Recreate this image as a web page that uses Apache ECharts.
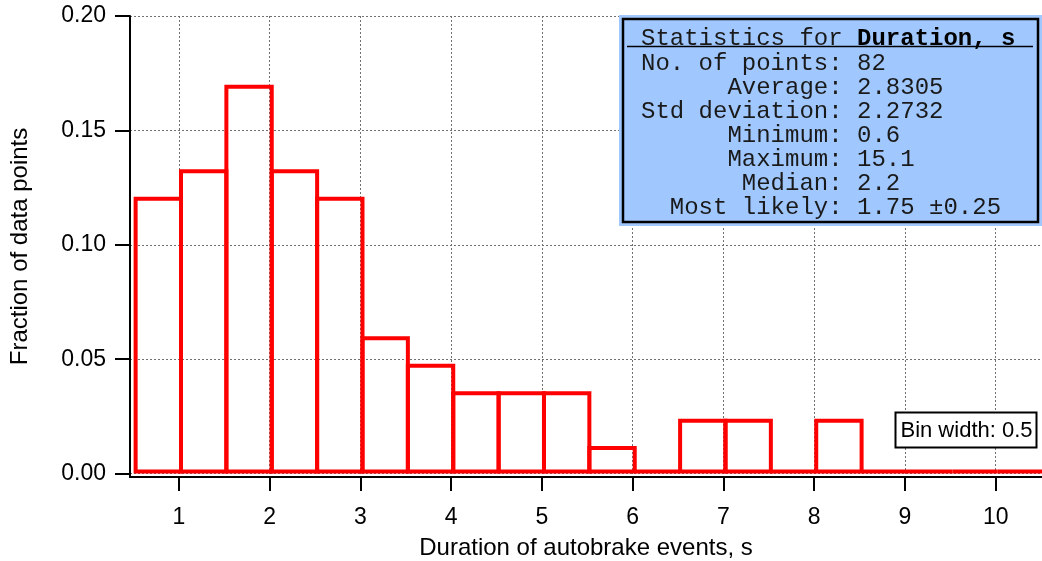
<!DOCTYPE html>
<html><head><meta charset="utf-8">
<script src="https://cdn.jsdelivr.net/npm/echarts@6/dist/echarts.min.js"></script>
<style>html,body{margin:0;padding:0;background:#fff}#c{width:1042px;height:561px}</style>
</head><body><div id="c"></div>
<script>
// ---- data ----
const binWidth = 0.5;
const binStarts = [0.5,1,1.5,2,2.5,3,3.5,4,4.5,5,5.5,6,6.5,7,7.5,8,8.5,9,9.5,10,10.5,11,11.5,12,12.5,13,13.5,14,14.5,15];
const fractions = [0.121,0.133,0.170,0.133,0.121,0.060,0.048,0.036,0.036,0.036,0.012,0,0.024,0.024,0,0.024,0,0,0,0,0,0,0,0,0,0,0,0,0,0.012];
const xTickValues = [1,2,3,4,5,6,7,8,9,10];
const yTickValues = [0,0.05,0.10,0.15,0.20];
const xTitle = 'Duration of autobrake events, s';
const yTitle = 'Fraction of data points';
const statTitle = 'Statistics for ';
const statVariable = 'Duration, s';
const statLabels = ['No. of points','Average','Std deviation','Minimum','Maximum','Median','Most likely'];
const statValues = ['82','2.8305','2.2732','0.6','15.1','2.2','1.75 \u00b10.25'];
const binNote = 'Bin width: 0.5';

// ---- chart ----
const SANS = "'Liberation Sans', Arial, Helvetica, sans-serif";
const MONO = "'Liberation Mono', 'Courier New', monospace";
const chart = echarts.init(document.getElementById('c'), null, {renderer:'canvas'});

const gridStyle = {color:'#707070', width:1, type:[2,2]};

function renderItem(params, api){
  const x0 = api.value(0), v = api.value(1);
  const a = api.coord([x0, 0]);
  const b = api.coord([x0 + binWidth, v]);
  const h = 2;
  const yb = a[1] - h;
  const yt = Math.min(b[1] + h, yb);
  return {
    type:'polygon',
    shape:{points:[[a[0]+h, yb],[a[0]+h, yt],[b[0]+h, yt],[b[0]+h, yb]]},
    style:{fill:'none', stroke:'#ff0000', lineWidth:4, lineJoin:'miter'}
  };
}

const statLines = statLabels.map((l,i)=> l.padStart(13,' ') + ': ' + statValues[i]);
const statGraphics = [
  {type:'rect', shape:{x:619, y:15, width:423, height:211}, style:{fill:'#a0c8ff'}, z:100},
  {type:'rect', shape:{x:623, y:19, width:415, height:203}, style:{fill:'none', stroke:'#000', lineWidth:2.5}, z:101},
  {type:'line', shape:{x1:627, y1:46.5, x2:1033, y2:46.5}, style:{stroke:'#000', lineWidth:1.5}, z:101},
  {type:'text', x:641, y:39, z:102, style:{
    text:'{n|' + statTitle + '}{b|' + statVariable + '}',
    rich:{n:{font:'24px ' + MONO, fill:'#1a1a1a'}, b:{font:'bold 24px ' + MONO, fill:'#000'}},
    font:'24px ' + MONO, fill:'#1a1a1a', align:'left', verticalAlign:'middle'}}
].concat(statLines.map((t,i)=>({
  type:'text', x:641, y:64 + i*23.9, z:102,
  style:{text:t, font:'24px ' + MONO, fill:'#1a1a1a', align:'left', verticalAlign:'middle'}
})));

const noteGraphics = [
  {type:'rect', shape:{x:895.5, y:412.5, width:141, height:35}, style:{fill:'#fff', stroke:'#000', lineWidth:2}, z:100},
  {type:'text', x:966.5, y:431, z:101, style:{text:binNote, font:'22px ' + SANS, fill:'#000', align:'center', verticalAlign:'middle'}}
];

chart.setOption({
  animation:false,
  backgroundColor:'#fff',
  grid:{left:130, right:0, top:16, bottom:84, containLabel:false, outerBoundsMode:'none'},
  xAxis:{
    type:'value', min:0.46, max:10.51,
    name:xTitle, nameLocation:'middle', nameGap:59,
    nameTextStyle:{fontFamily:SANS, fontSize:24, color:'#000'},
    axisLine:{show:true, onZero:false, lineStyle:{color:'#000', width:2}},
    axisTick:{show:true, customValues:xTickValues, length:14, lineStyle:{color:'#000', width:2}},
    axisLabel:{customValues:xTickValues, margin:29, fontFamily:SANS, fontSize:23, color:'#000'},
    splitLine:{show:true, lineStyle:gridStyle}
  },
  yAxis:{
    type:'value', min:-0.0015, max:0.2,
    name:yTitle, nameLocation:'middle', nameGap:98, nameRotate:90,
    nameTextStyle:{fontFamily:SANS, fontSize:24, color:'#000'},
    axisLine:{show:true, onZero:false, lineStyle:{color:'#000', width:2}},
    axisTick:{show:true, customValues:yTickValues, length:15, lineStyle:{color:'#000', width:2}},
    axisLabel:{customValues:yTickValues, margin:24, fontFamily:SANS, fontSize:23, color:'#000',
      formatter:(v)=>Number(v).toFixed(2)},
    splitLine:{show:true, lineStyle:gridStyle}
  },
  series:[{
    type:'custom', clip:true,
    renderItem:renderItem,
    data:binStarts.map((s,i)=>[s, fractions[i]]),
    encode:{x:0, y:1},
    z:10
  }],
  graphic:statGraphics.concat(noteGraphics)
});
</script>
</body></html>
